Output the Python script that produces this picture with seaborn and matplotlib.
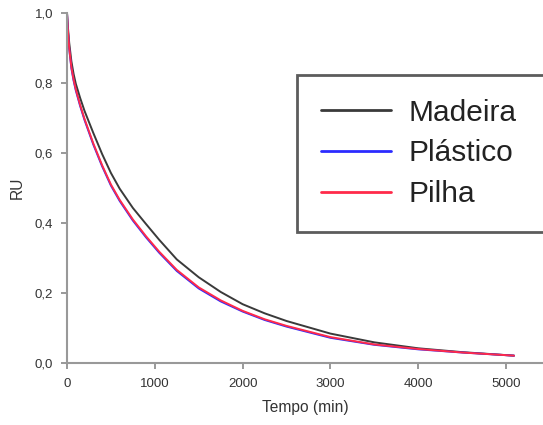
import numpy as np
import pandas as pd
import matplotlib
matplotlib.use("Agg")
import matplotlib.pyplot as plt
import seaborn as sns
from matplotlib.ticker import FuncFormatter

# ---- data ----
tempo = [0, 10, 25, 50, 75, 100, 150, 200, 300, 400, 500, 600, 750, 900, 1050,
         1250, 1500, 1750, 2000, 2250, 2500, 3000, 3500, 4000, 4500, 5090]
madeira = [1.0, 0.960, 0.915, 0.862, 0.826, 0.798, 0.757, 0.720, 0.657, 0.597,
           0.543, 0.498, 0.443, 0.397, 0.352, 0.296, 0.245, 0.203, 0.168,
           0.142, 0.120, 0.084, 0.059, 0.042, 0.031, 0.021]
pilha = [1.0, 0.952, 0.900, 0.845, 0.810, 0.782, 0.737, 0.697, 0.627, 0.565,
         0.510, 0.466, 0.410, 0.362, 0.318, 0.266, 0.216, 0.179, 0.149,
         0.125, 0.106, 0.074, 0.053, 0.040, 0.030, 0.021]
plastico = [1.0, 0.951, 0.898, 0.842, 0.807, 0.779, 0.734, 0.694, 0.624, 0.562,
            0.507, 0.463, 0.407, 0.359, 0.315, 0.263, 0.213, 0.176, 0.147,
            0.123, 0.104, 0.072, 0.052, 0.039, 0.030, 0.021]
series_names = ["Madeira", "Plástico", "Pilha"]
colors = {"Madeira": "#3a3a3a", "Plástico": "#2b2bff", "Pilha": "#ff2a4a"}
x_ticks = [0, 1000, 2000, 3000, 4000, 5000]
y_ticks = [0.0, 0.2, 0.4, 0.6, 0.8, 1.0]

df = pd.DataFrame({
    "Tempo": tempo * 3,
    "RU": madeira + plastico + pilha,
    "Série": ["Madeira"] * len(tempo) + ["Plástico"] * len(tempo) + ["Pilha"] * len(tempo),
})

sns.set_theme(style="white")
plt.rcParams["font.family"] = ["Liberation Sans", "DejaVu Sans"]

fig = plt.figure(figsize=(5.43, 4.25), dpi=100)
ax = fig.add_axes([67 / 543, 62 / 425, (543 - 67) / 543, 350 / 425])

sns.lineplot(data=df, x="Tempo", y="RU", hue="Série", hue_order=series_names,
             palette=colors, linewidth=1.4, ax=ax, legend=False, sort=False)

ax.set_xlim(0, 5420)
ax.set_ylim(0, 1.0)
ax.set_xticks(x_ticks)
ax.set_yticks(y_ticks)
ax.xaxis.set_major_formatter(FuncFormatter(lambda v, p: f"{int(v)}"))
ax.yaxis.set_major_formatter(FuncFormatter(lambda v, p: f"{v:.1f}".replace(".", ",")))
ax.tick_params(axis="both", direction="out", length=4, width=1.2, color="#888888",
               labelsize=9.5, labelcolor="#333333", bottom=True, left=True)
ax.tick_params(axis="x", pad=7)
ax.tick_params(axis="y", pad=6)
for side in ["top", "right"]:
    ax.spines[side].set_visible(False)
for side in ["left", "bottom"]:
    ax.spines[side].set_color("#999999")
    ax.spines[side].set_linewidth(1.5)

ax.set_xlabel("Tempo (min)", fontsize=11.2, color="#333333", labelpad=7)
ax.set_ylabel("RU", fontsize=11.2, color="#333333", labelpad=7)

handles = ax.get_lines()[:3]
leg = fig.legend(handles, series_names,
                 bbox_to_anchor=(297 / 543, 1 - 233 / 425, 0.6, 158 / 425),
                 loc="upper left", mode="expand", ncol=1,
                 fontsize=21.5, frameon=True, fancybox=False,
                 handlelength=2.35, handletextpad=0.6, labelspacing=0.42,
                 borderpad=0.8, borderaxespad=0)
frame = leg.get_frame()
frame.set_edgecolor("#333333")
frame.set_linewidth(2)
for line in leg.get_lines():
    line.set_linewidth(2)
for t in leg.get_texts():
    t.set_color("#222222")

fig.savefig("out.png", dpi=100)
